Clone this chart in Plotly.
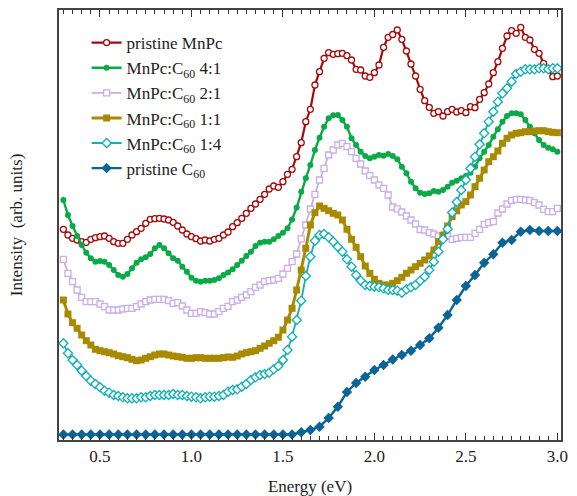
import plotly.graph_objects as go

step = 0.025
mnpc = [210.7, 205, 201.7, 200, 198.3, 197.7, 200.7, 202.3, 203.3, 204, 201.7, 198.3, 196.7, 196.7, 200.7, 205,
        208.3, 211.7, 216.7, 220.7, 221.3, 221.7, 221, 220, 217.7, 214, 210, 206, 203.3, 201.3, 199, 200, 199,
        200.7, 201.7, 205, 208, 213.3, 217.3, 221.7, 226.7, 231.7, 236, 240.7, 245.7, 251, 254, 252.7, 258.3,
        265.7, 270.7, 283.3, 297.3, 318.3, 330.7, 355, 368.3, 381.7, 387.3, 385.7, 386.3, 386.7, 384.3, 380,
        370.7, 370, 364, 362.7, 367.3, 375, 392.7, 402.7, 405.5, 410, 400.7, 389, 376, 364, 350.7, 339.3, 332.7,
        326.7, 328.3, 324, 328.3, 330.7, 328, 329.3, 327.3, 333.3, 332.3, 340.7, 347.3, 356, 367.3, 378.3, 391.7,
        404, 409.3, 406.7, 412.7, 402.7, 400, 390.7, 386.7, 376.7, 370.7, 363.3, 364]
r41 = [240, 225, 214, 204, 195, 187.3, 181.7, 178.3, 179, 178.3, 175, 170, 165, 163.3, 166, 171.7, 177.3, 180.7,
       182.7, 186, 191.7, 195, 191.7, 186.7, 181.7, 179.3, 173.3, 168.3, 162.3, 159.3, 158.3, 159.3, 159.3, 160,
       161.7, 165, 167.5, 170.7, 175, 179.3, 184, 188.3, 194, 197.3, 198.3, 198.3, 200.7, 204, 207.3, 211.7, 220.5,
       232.5, 248.3, 261.7, 275, 290, 302.3, 313.3, 321.7, 324.7, 325, 320, 313.3, 301.7, 295, 288.3, 284, 281.7,
       283.3, 285, 284.3, 286, 284, 280.7, 273.3, 266.7, 258.3, 251.7, 247.3, 246, 246.7, 249, 248.3, 250, 253.3,
       257.3, 259.3, 261.7, 264, 267.3, 273.3, 281.7, 288.3, 295, 303.3, 310.7, 318.3, 324, 326.7, 326.7, 325.7,
       320, 313.3, 306.7, 300, 295, 292.3, 290.7, 288.3]
r21 = [180.7, 166.7, 158.3, 150, 142.7, 138.3, 138.3, 138.3, 136, 133.3, 130, 130, 130, 131, 131.7, 131.7, 133.3,
       136, 138.3, 140, 140.7, 140.7, 140.7, 139.3, 136.7, 137.3, 134, 130, 126.7, 126.7, 128.3, 127.3, 126, 126,
       128.3, 131.7, 133.7, 138.3, 140, 142.7, 145, 148.3, 152.7, 155, 158.3, 159.3, 160, 161.7, 166, 171.7, 178.3,
       186, 201.2, 215, 231, 245.7, 260, 271.7, 285, 290, 295, 296.7, 293.3, 288.3, 281.7, 276, 269, 264.3, 260,
       255, 251.7, 245, 233, 231.2, 228, 224, 220, 216, 210.5, 210, 207.3, 206, 204, 203.3, 204, 200.7, 201.7,
       202.7, 202.7, 202.7, 206.7, 210.7, 215.7, 217.3, 218.3, 227, 231, 236, 239.5, 240.7, 240.7, 240, 239.3,
       237.3, 235, 230.7, 228.3, 228.3, 231.7]
r11 = [140, 126, 117.3, 111.7, 105, 99.3, 95, 90.7, 89.3, 88.3, 87.3, 86, 84.3, 83.3, 82.3, 80.7, 79.3, 80, 81.7,
       83.3, 85, 86, 86, 85, 84, 83.3, 82.7, 81.7, 81.7, 82.3, 82.3, 81.7, 81.7, 81.7, 81.7, 82.3, 83, 82.7, 84, 86,
       87.3, 88.3, 89.3, 91.7, 94, 96.7, 99.3, 102.7, 110, 120, 131.7, 150, 170, 191.7, 215, 227.3, 234, 231.7,
       229.3, 226.7, 225, 220, 210.7, 200.7, 192.7, 183.3, 174, 166.7, 160.7, 156.7, 155, 155, 156.7, 159.3, 162.7,
       166.7, 170, 173.3, 176.7, 180, 184, 190, 198.3, 205, 214, 223.3, 229.2, 235, 238.3, 245, 253.3, 261.7, 270,
       278.3, 283.3, 289, 296.7, 301.7, 305, 306.7, 307.3, 308.3, 308.3, 309, 309.3, 309.3, 308.3, 307.7, 307.3]
r14 = [96.7, 86.7, 80, 75, 69.3, 64, 59.3, 56, 52.7, 49.3, 47.3, 45, 44, 42.7, 41.7, 41.7, 41.7, 42.7, 42.7, 44, 45,
       45, 45, 45, 46, 45, 45, 44, 43.3, 42.7, 41.7, 42.7, 43.3, 43.3, 44, 45, 48.3, 50, 50.7, 53.3, 56, 60, 62.7, 65,
       66, 67.3, 70.7, 74, 80, 90, 103.3, 120, 139.3, 164, 183.3, 199.3, 205, 206, 202.7, 198.3, 193.3, 188.3, 180.7,
       173.3, 165, 159.3, 155, 154, 153.3, 152.7, 151.7, 150, 150, 149.3, 147.3, 150.7, 152.7, 155, 159.3, 163.3,
       170, 178.3, 188.3, 200.7, 211, 227.5, 238, 250, 260, 271.7, 283.3, 295.7, 306.7, 318.3, 328.3, 338.3, 346.7,
       351.7, 358.3, 366, 368.3, 370.7, 370.7, 370.7, 371.7, 371.7, 370.7, 371.7, 371.7]
c60_step = 0.05
c60 = [5.5] * 26 + [7.7, 10, 13.3, 22, 33.3, 48, 57, 63.3, 70, 75, 80.5, 85, 89.3, 95, 101.7, 112.3, 125, 140,
                    154, 165, 177.3, 185.7, 197.3, 200, 208.3, 210, 209, 209, 209]

names = ["pristine MnPc", "MnPc:C<sub>60</sub> 4:1", "MnPc:C<sub>60</sub> 2:1",
         "MnPc:C<sub>60</sub> 1:1", "MnPc:C<sub>60</sub> 1:4", "pristine C<sub>60</sub>"]
colors = ["#A50A0A", "#0AAA46", "#C9AEEA", "#A88A00", "#12AFB4", "#0A6496"]


def grid(vals, st):
    return [round(0.3 + st * i, 3) for i in range(len(vals))]


fig = go.Figure()
specs = [
    (mnpc, step, dict(symbol="circle", size=6, color="white", line=dict(color=colors[0], width=1.3)), 2.2),
    (r41, step, dict(symbol="circle", size=6, color=colors[1], line=dict(width=0)), 2.4),
    (r21, step, dict(symbol="square", size=6, color="white", line=dict(color=colors[2], width=1.3)), 1.8),
    (r11, step, dict(symbol="square", size=7, color=colors[3], line=dict(width=0)), 3.0),
    (r14, step, dict(symbol="diamond", size=7, color="white", line=dict(color=colors[4], width=1.3)), 1.8),
    (c60, c60_step, dict(symbol="diamond", size=8, color=colors[5], line=dict(width=0)), 2.4),
]
for i, (vals, st, mk, lw) in enumerate(specs):
    fig.add_trace(go.Scatter(x=grid(vals, st), y=vals, mode="lines+markers", name=names[i],
                             line=dict(color=colors[i], width=lw), marker=mk))

font = "Liberation Serif, Times New Roman, serif"
fig.update_layout(
    width=577, height=496,
    margin=dict(l=59, r=16, t=10, b=56),
    paper_bgcolor="white", plot_bgcolor="white",
    font=dict(family=font, size=16, color="#222"),
    showlegend=True,
    legend=dict(x=0.055, y=0.965, xanchor="left", yanchor="top", bgcolor="rgba(0,0,0,0)",
                font=dict(family=font, size=17, color="#222"), tracegroupgap=0),
    xaxis=dict(range=[0.276, 3.02], tick0=0.5, dtick=0.5, tickformat=".1f", ticks="inside", ticklen=7,
               tickcolor="#333", tickwidth=1, showline=True, linecolor="#444", linewidth=1.5, mirror="allticks",
               showgrid=False, zeroline=False, automargin=False,
               minor=dict(dtick=0.05, tick0=0.3, ticks="inside", ticklen=4, tickcolor="#333", tickwidth=1, showgrid=False),
               title=dict(text="Energy (eV)", font=dict(family=font, size=17), standoff=22),
               tickfont=dict(family=font, size=17)),
    yaxis=dict(range=[0, 430], showticklabels=False, ticks="", showline=True, linecolor="#444", linewidth=1.5,
               mirror=True, showgrid=False, zeroline=False, automargin=False,
               title=dict(text="Intensity  (arb. units)", font=dict(family=font, size=17), standoff=30)),
)
fig.write_html("out.html", config={"displayModeBar": False},
               post_script="document.body.style.margin='0';document.body.style.overflow='hidden';")
